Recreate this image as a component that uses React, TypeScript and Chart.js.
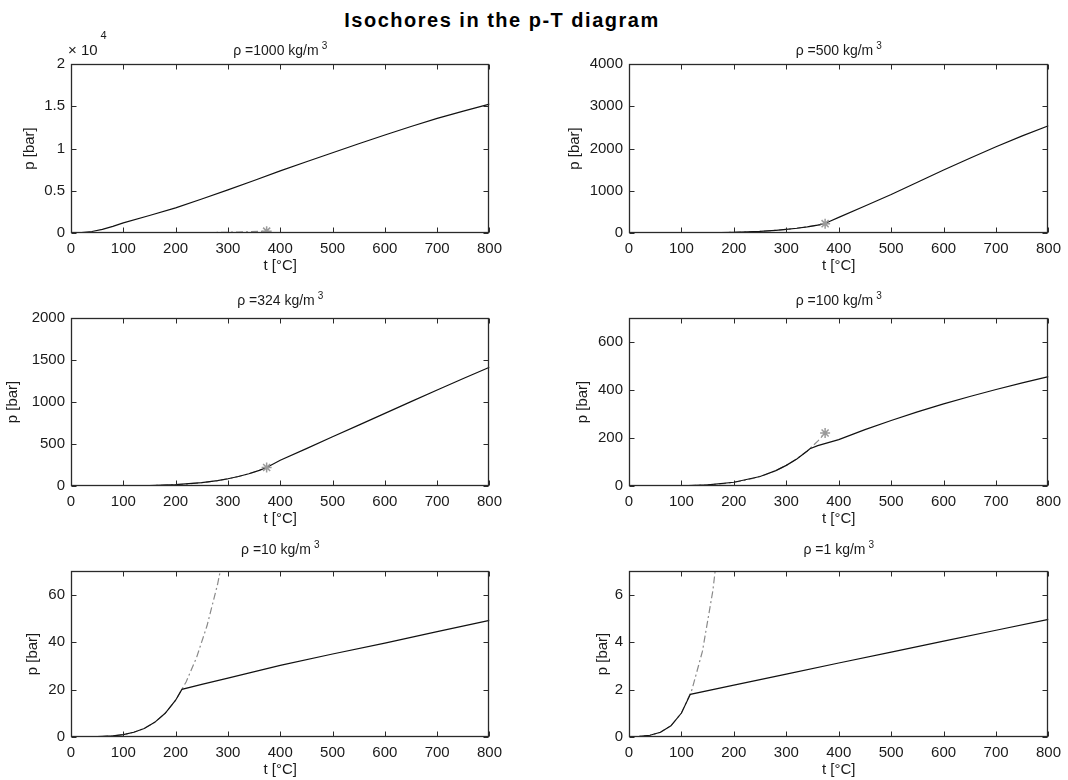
import React, { useEffect, useRef } from 'react';
import { Chart, registerables } from 'chart.js';
Chart.register(...registerables);

// ---------- data ----------
const FIG_TITLE = 'Isochores in the p-T diagram';
const X_LABEL = 't [°C]';
const Y_LABEL = 'p [bar]';
const X_MIN = 0;
const X_MAX = 800;
const X_STEP = 100;

// vapour-pressure (saturation) curve, ends at the critical point
const tSat = [0, 20, 40, 60, 80, 100, 120, 140, 160, 180, 200, 220, 240, 260, 280, 300, 320, 340, 360, 374];
const pSat = [0.006, 0.023, 0.074, 0.199, 0.474, 1.01, 1.99, 3.61, 6.18, 10.0, 15.5, 23.2, 33.5, 46.9, 64.2, 85.9, 112.9, 146.0, 186.7, 220.6];

// critical point (star)
const tCrit = [374];
const pCrit = [220.6];

// isochores
const t1000 = [0, 20, 40, 60, 80, 100, 150, 200, 250, 300, 350, 400, 450, 500, 550, 600, 650, 700, 750, 800];
const p1000 = [0, 40, 180, 420, 780, 1200, 2070, 2970, 4020, 5100, 6220, 7350, 8430, 9500, 10560, 11600, 12600, 13560, 14430, 15250];

const t500 = [0, 50, 100, 150, 200, 250, 280, 300, 320, 340, 360, 365, 380, 400, 450, 500, 550, 600, 650, 700, 750, 800];
const p500 = [0.01, 0.12, 1.01, 4.76, 15.5, 39.7, 64.2, 85.9, 112.9, 146, 186.7, 198, 260, 370, 640, 910, 1200, 1490, 1770, 2040, 2300, 2540];

const t324 = [0, 50, 100, 150, 200, 250, 280, 300, 320, 340, 360, 374, 400, 450, 500, 550, 600, 650, 700, 750, 800];
const p324 = [0.01, 0.12, 1.01, 4.76, 15.5, 39.7, 64.2, 85.9, 112.9, 146, 186.7, 220.6, 307, 445, 586, 725, 865, 1005, 1143, 1280, 1414];

const t100 = [0, 50, 100, 150, 200, 250, 280, 300, 320, 340, 345, 360, 380, 400, 450, 500, 550, 600, 650, 700, 750, 800];
const p100 = [0.01, 0.12, 1.01, 4.76, 15.5, 39.7, 64.2, 85.9, 112.9, 146, 155.4, 168, 181, 193, 235, 273, 309, 342, 373, 402, 430, 456];

const t10 = [0, 50, 80, 100, 120, 140, 160, 180, 200, 212, 250, 300, 400, 500, 600, 700, 800];
const p10 = [0.01, 0.12, 0.47, 1.01, 1.99, 3.61, 6.18, 10.0, 15.5, 20.1, 22.2, 24.8, 30.2, 35.0, 39.6, 44.4, 49.2];

const t1 = [0, 20, 40, 60, 80, 100, 117, 200, 300, 400, 500, 600, 700, 800];
const p1 = [0.006, 0.023, 0.074, 0.199, 0.474, 1.01, 1.8, 2.19, 2.65, 3.12, 3.58, 4.04, 4.5, 4.96];

const densities = ['1000', '500', '324', '100', '10', '1'];
const yMaxes = [20000, 4000, 2000, 700, 70, 7];
const ySteps = [5000, 1000, 500, 200, 20, 2];
const tSeries = [t1000, t500, t324, t100, t10, t1];
const pSeries = [p1000, p500, p324, p100, p10, p1];
const yExponent = [4, 0, 0, 0, 0, 0];

// ---------- layout ----------
const COL_LEFT = [71, 629];
const COL_W = [424, 425];
const ROW_TOP = [64, 318, 571];
const ROW_H = [169, 168, 166];
const PAD_L = 70;
const PAD_T = 40;
const PAD_R = 14;
const PAD_B = 45;
const YLAB_OFF = [41, 54, 58, 46, 38, 26];
const TITLE_OFF = [13, 17, 21];

const FONT = '"Liberation Sans", Arial, Helvetica, sans-serif';
const TEXT = '#1a1a1a';

const toPts = (xs: number[], ys: number[]) => xs.map((x, i) => ({ x, y: ys[i] }));

const framePlugin = {
  id: 'frame',
  afterDraw(chart: any, _args: any, opts: any) {
    const { ctx, chartArea: a, scales } = chart;
    const x = scales.x;
    const y = scales.y;
    ctx.save();
    ctx.strokeStyle = '#2a2a2a';
    ctx.lineWidth = 1.3;
    const L = Math.round(a.left) + 0.5;
    const R = Math.round(a.right) - 0.5;
    const T = Math.round(a.top) + 0.5;
    const B = Math.round(a.bottom) - 0.5;
    ctx.strokeRect(L, T, R - L, B - T);
    const tl = 5;
    ctx.lineWidth = 1;
    ctx.beginPath();
    x.ticks.forEach((tk: any) => {
      const px = Math.round(x.getPixelForValue(tk.value)) + 0.5;
      ctx.moveTo(px, B); ctx.lineTo(px, B - tl);
      ctx.moveTo(px, T); ctx.lineTo(px, T + tl);
    });
    y.ticks.forEach((tk: any) => {
      const py = Math.round(y.getPixelForValue(tk.value)) + 0.5;
      ctx.moveTo(L, py); ctx.lineTo(L + tl, py);
      ctx.moveTo(R, py); ctx.lineTo(R - tl, py);
    });
    ctx.stroke();

    ctx.fillStyle = TEXT;
    // panel title with superscript
    const cx = (a.left + a.right) / 2;
    const ty = a.top - opts.titleOff;
    ctx.font = `14px ${FONT}`;
    const main = opts.title;
    const wMain = ctx.measureText(main).width;
    ctx.font = `10px ${FONT}`;
    const wSup = ctx.measureText('3').width;
    const x0 = cx - (wMain + 3 + wSup) / 2;
    ctx.textBaseline = 'middle';
    ctx.textAlign = 'left';
    ctx.font = `14px ${FONT}`;
    ctx.fillText(main, x0, ty);
    ctx.font = `10px ${FONT}`;
    ctx.fillText('3', x0 + wMain + 3, ty - 5);

    // exponent label
    if (opts.exponent) {
      ctx.font = `15px ${FONT}`;
      ctx.fillText('× 10', a.left - 3, a.top - 13);
      const w = ctx.measureText('× 10').width;
      ctx.font = `11px ${FONT}`;
      ctx.fillText(String(opts.exponent), a.left - 3 + w + 3, a.top - 28);
    }

    // axis labels
    ctx.font = `15px ${FONT}`;
    ctx.textAlign = 'center';
    ctx.fillText(X_LABEL, cx, a.bottom + 33);
    ctx.save();
    ctx.translate(a.left - opts.ylabOff, (a.top + a.bottom) / 2);
    ctx.rotate(-Math.PI / 2);
    ctx.fillText(Y_LABEL, 0, 0);
    ctx.restore();
    ctx.restore();
  },
};

function Panel({ idx }: { idx: number }) {
  const ref = useRef<HTMLCanvasElement>(null);
  const col = idx % 2;
  const row = Math.floor(idx / 2);
  const W = COL_W[col] + PAD_L + PAD_R;
  const H = ROW_H[row] + PAD_T + PAD_B;
  const left = COL_LEFT[col] - PAD_L;
  const top = ROW_TOP[row] - PAD_T;

  useEffect(() => {
    if (!ref.current) return;
    const exp = yExponent[idx];
    const chart = new Chart(ref.current, {
      type: 'scatter',
      data: {
        datasets: [
          {
            data: toPts(tCrit, pCrit),
            showLine: false,
            pointStyle: 'star',
            pointRadius: 5,
            borderColor: '#9a9a9a',
            backgroundColor: '#9a9a9a',
            borderWidth: 1.5,
          },
          {
            data: toPts(tSeries[idx], pSeries[idx]),
            showLine: true,
            borderColor: '#111',
            borderWidth: 1.2,
            pointRadius: 0,
            tension: 0,
          },
          {
            data: toPts(tSat, pSat),
            showLine: true,
            borderColor: '#8a8a8a',
            borderWidth: 1.2,
            borderDash: [7, 3, 2, 3],
            pointRadius: 0,
            tension: 0,
          },
        ],
      },
      options: {
        responsive: false,
        animation: false,
        devicePixelRatio: 1,
        events: [],
        layout: { padding: { left: 0, top: PAD_T, right: PAD_R, bottom: 0 } },
        plugins: {
          legend: { display: false },
          tooltip: { enabled: false },
          frame: {
            title: `ρ =${densities[idx]} kg/m`,
            titleOff: TITLE_OFF[row],
            ylabOff: YLAB_OFF[idx],
            exponent: exp,
          },
        } as any,
        scales: {
          x: {
            type: 'linear',
            min: X_MIN,
            max: X_MAX,
            grid: { display: false, drawTicks: false },
            border: { display: false },
            ticks: {
              stepSize: X_STEP,
              padding: 7,
              maxRotation: 0,
              autoSkip: false,
              color: TEXT,
              font: { family: FONT, size: 15 },
            },
            afterFit: (s: any) => { s.height = PAD_B; },
          },
          y: {
            type: 'linear',
            min: 0,
            max: yMaxes[idx],
            grid: { display: false, drawTicks: false },
            border: { display: false },
            ticks: {
              stepSize: ySteps[idx],
              includeBounds: false,
              padding: 6,
              color: TEXT,
              font: { family: FONT, size: 15 },
              callback: (v: any) => String(Math.round((v / Math.pow(10, exp)) * 1000) / 1000),
            },
            afterFit: (s: any) => { s.width = PAD_L; },
          },
        },
      },
      plugins: [framePlugin],
    } as any);
    return () => chart.destroy();
  }, [idx]);

  return (
    <canvas
      ref={ref}
      width={W}
      height={H}
      style={{ position: 'absolute', left, top, width: W, height: H }}
    />
  );
}

export default function App() {
  return (
    <div style={{ position: 'absolute', left: 0, top: 0, width: 1068, height: 780, background: '#fff', overflow: 'hidden' }}>
      <div
        style={{
          position: 'absolute',
          left: 0,
          width: 1004,
          top: 6,
          textAlign: 'center',
          fontFamily: FONT,
          fontWeight: 'bold',
          fontSize: 20,
          letterSpacing: 1.5,
          color: '#000',
          lineHeight: '28px',
        }}
      >
        {FIG_TITLE}
      </div>
      {densities.map((_, i) => (
        <Panel key={i} idx={i} />
      ))}
    </div>
  );
}
